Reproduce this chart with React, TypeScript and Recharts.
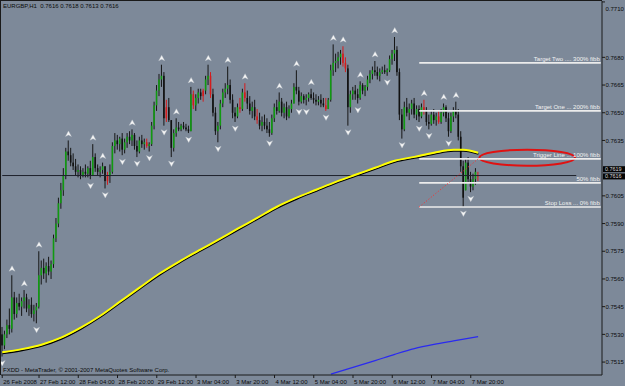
import React from 'react';
import { ComposedChart, Bar, Line, Scatter, XAxis, YAxis, ReferenceLine, ReferenceArea } from 'recharts';

// EURGBP H1 candles, 26 Feb 2008 21:00 .. 7 Mar 2008 23:00
const opens = [
  0.7530, 0.7524, 0.7530, 0.7535, 0.7533, 0.7550, 0.7541, 0.7547, 0.7545, 0.7548, 0.7550, 0.7544, 0.7546, 0.7541, 0.7543,
  0.7545, 0.7562, 0.7566, 0.7563, 0.7567, 0.7564, 0.7568, 0.7582, 0.7590, 0.7601, 0.7608, 0.7616, 0.7629, 0.7627, 0.7623,
  0.7621, 0.7618, 0.7619, 0.7616, 0.7618, 0.7617, 0.7620, 0.7616, 0.7626, 0.7620, 0.7618, 0.7619, 0.7621, 0.7613, 0.7616,
  0.7618, 0.7632, 0.7635, 0.7633, 0.7636, 0.7630, 0.7634, 0.7637, 0.7635, 0.7638, 0.7632, 0.7629, 0.7635, 0.7633, 0.7634,
  0.7632, 0.7633, 0.7643, 0.7654, 0.7662, 0.7668, 0.7670, 0.7647, 0.7653, 0.7646, 0.7631, 0.7639, 0.7642, 0.7641, 0.7643,
  0.7642, 0.7641, 0.7640, 0.7660, 0.7654, 0.7658, 0.7661, 0.7659, 0.7662, 0.7668, 0.7670, 0.7660, 0.7650, 0.7640, 0.7643,
  0.7655, 0.7661, 0.7663, 0.7665, 0.7657, 0.7650, 0.7648, 0.7653, 0.7652, 0.7661, 0.7658, 0.7655, 0.7651, 0.7653, 0.7648,
  0.7646, 0.7643, 0.7645, 0.7643, 0.7641, 0.7639, 0.7647, 0.7653, 0.7651, 0.7656, 0.7650, 0.7653, 0.7648, 0.7652, 0.7655,
  0.7664, 0.7662, 0.7656, 0.7659, 0.7657, 0.7658, 0.7660, 0.7658, 0.7657, 0.7656, 0.7657, 0.7655, 0.7654, 0.7652, 0.7657,
  0.7673, 0.7677, 0.7678, 0.7680, 0.7682, 0.7677, 0.7674, 0.7653, 0.7660, 0.7662, 0.7660, 0.7658, 0.7665, 0.7662, 0.7664,
  0.7668, 0.7671, 0.7673, 0.7672, 0.7670, 0.7672, 0.7673, 0.7672, 0.7673, 0.7679, 0.7682, 0.7684, 0.7672, 0.7649, 0.7641,
  0.7653, 0.7650, 0.7652, 0.7655, 0.7649, 0.7652, 0.7648, 0.7653, 0.7651, 0.7645, 0.7644, 0.7649, 0.7646, 0.7648, 0.7645,
  0.7650, 0.7653, 0.7647, 0.7640, 0.7648, 0.7651, 0.7649, 0.7637, 0.7621, 0.7608, 0.7623, 0.7614, 0.7610, 0.7614, 0.7616,
];
const highs = [
  0.7534, 0.7532, 0.7538, 0.7544, 0.7562, 0.7553, 0.7550, 0.7552, 0.7550, 0.7554, 0.7552, 0.7549, 0.7550, 0.7546, 0.7547,
  0.7575, 0.7570, 0.7571, 0.7569, 0.7572, 0.7570, 0.7584, 0.7593, 0.7604, 0.7612, 0.7620, 0.7631, 0.7635, 0.7631, 0.7628,
  0.7625, 0.7622, 0.7621, 0.7620, 0.7622, 0.7621, 0.7624, 0.7633, 0.7628, 0.7622, 0.7621, 0.7623, 0.7621, 0.7618, 0.7622,
  0.7634, 0.7639, 0.7638, 0.7637, 0.7639, 0.7636, 0.7639, 0.7640, 0.7641, 0.7639, 0.7635, 0.7637, 0.7638, 0.7636, 0.7636,
  0.7634, 0.7645, 0.7656, 0.7665, 0.7671, 0.7676, 0.7672, 0.7657, 0.7658, 0.7646, 0.7641, 0.7647, 0.7645, 0.7644, 0.7645,
  0.7644, 0.7643, 0.7664, 0.7662, 0.7660, 0.7663, 0.7663, 0.7663, 0.7670, 0.7676, 0.7672, 0.7663, 0.7653, 0.7645, 0.7657,
  0.7663, 0.7666, 0.7675, 0.7668, 0.7660, 0.7653, 0.7655, 0.7658, 0.7663, 0.7666, 0.7662, 0.7659, 0.7656, 0.7657, 0.7652,
  0.7650, 0.7648, 0.7649, 0.7647, 0.7645, 0.7649, 0.7655, 0.7657, 0.7661, 0.7658, 0.7655, 0.7656, 0.7654, 0.7657, 0.7666,
  0.7673, 0.7664, 0.7661, 0.7660, 0.7660, 0.7661, 0.7663, 0.7661, 0.7660, 0.7659, 0.7660, 0.7658, 0.7658, 0.7658, 0.7676,
  0.7687, 0.7682, 0.7683, 0.7684, 0.7686, 0.7680, 0.7676, 0.7662, 0.7664, 0.7665, 0.7663, 0.7667, 0.7666, 0.7665, 0.7670,
  0.7673, 0.7675, 0.7678, 0.7675, 0.7674, 0.7675, 0.7676, 0.7674, 0.7681, 0.7684, 0.7691, 0.7686, 0.7674, 0.7652, 0.7656,
  0.7658, 0.7655, 0.7657, 0.7658, 0.7654, 0.7654, 0.7655, 0.7657, 0.7653, 0.7649, 0.7651, 0.7652, 0.7650, 0.7651, 0.7652,
  0.7655, 0.7654, 0.7650, 0.7650, 0.7653, 0.7656, 0.7652, 0.7640, 0.7624, 0.7625, 0.7626, 0.7618, 0.7617, 0.7620, 0.7618,
];
const lows = [
  0.7518, 0.7522, 0.7528, 0.7530, 0.7531, 0.7538, 0.7539, 0.7543, 0.7540, 0.7544, 0.7542, 0.7540, 0.7539, 0.7537, 0.7536,
  0.7544, 0.7557, 0.7560, 0.7558, 0.7562, 0.7560, 0.7566, 0.7580, 0.7588, 0.7598, 0.7605, 0.7614, 0.7624, 0.7621, 0.7619,
  0.7616, 0.7615, 0.7614, 0.7615, 0.7615, 0.7615, 0.7614, 0.7616, 0.7618, 0.7616, 0.7615, 0.7617, 0.7609, 0.7611, 0.7612,
  0.7617, 0.7628, 0.7630, 0.7629, 0.7627, 0.7628, 0.7631, 0.7633, 0.7632, 0.7630, 0.7626, 0.7628, 0.7631, 0.7630, 0.7631,
  0.7629, 0.7632, 0.7641, 0.7651, 0.7659, 0.7664, 0.7643, 0.7645, 0.7645, 0.7626, 0.7629, 0.7637, 0.7640, 0.7640, 0.7641,
  0.7640, 0.7639, 0.7640, 0.7652, 0.7651, 0.7655, 0.7657, 0.7656, 0.7660, 0.7665, 0.7658, 0.7648, 0.7638, 0.7634, 0.7641,
  0.7653, 0.7658, 0.7660, 0.7655, 0.7647, 0.7645, 0.7647, 0.7650, 0.7651, 0.7656, 0.7652, 0.7649, 0.7647, 0.7646, 0.7644,
  0.7641, 0.7640, 0.7641, 0.7639, 0.7637, 0.7638, 0.7645, 0.7649, 0.7650, 0.7648, 0.7647, 0.7646, 0.7647, 0.7650, 0.7655,
  0.7660, 0.7654, 0.7655, 0.7655, 0.7654, 0.7656, 0.7657, 0.7655, 0.7654, 0.7654, 0.7653, 0.7653, 0.7651, 0.7652, 0.7656,
  0.7670, 0.7672, 0.7674, 0.7676, 0.7675, 0.7672, 0.7643, 0.7650, 0.7657, 0.7657, 0.7655, 0.7657, 0.7660, 0.7659, 0.7662,
  0.7666, 0.7668, 0.7670, 0.7668, 0.7667, 0.7671, 0.7671, 0.7670, 0.7672, 0.7676, 0.7678, 0.7670, 0.7646, 0.7636, 0.7640,
  0.7648, 0.7646, 0.7649, 0.7647, 0.7646, 0.7645, 0.7647, 0.7649, 0.7643, 0.7641, 0.7643, 0.7644, 0.7643, 0.7644, 0.7644,
  0.7648, 0.7645, 0.7637, 0.7639, 0.7645, 0.7647, 0.7635, 0.7618, 0.7599, 0.7608, 0.7612, 0.7607, 0.7608, 0.7611, 0.7613,
];
const closes = [
  0.7524, 0.7530, 0.7535, 0.7533, 0.7550, 0.7541, 0.7547, 0.7545, 0.7548, 0.7550, 0.7544, 0.7546, 0.7541, 0.7543, 0.7545,
  0.7562, 0.7566, 0.7563, 0.7567, 0.7564, 0.7568, 0.7582, 0.7590, 0.7601, 0.7608, 0.7616, 0.7629, 0.7627, 0.7623, 0.7621,
  0.7618, 0.7619, 0.7616, 0.7618, 0.7617, 0.7620, 0.7616, 0.7626, 0.7620, 0.7618, 0.7619, 0.7621, 0.7613, 0.7616, 0.7618,
  0.7632, 0.7635, 0.7633, 0.7636, 0.7630, 0.7634, 0.7637, 0.7635, 0.7638, 0.7632, 0.7629, 0.7635, 0.7633, 0.7634, 0.7632,
  0.7633, 0.7643, 0.7654, 0.7662, 0.7668, 0.7670, 0.7647, 0.7653, 0.7646, 0.7631, 0.7639, 0.7642, 0.7641, 0.7643, 0.7642,
  0.7641, 0.7640, 0.7660, 0.7654, 0.7658, 0.7661, 0.7659, 0.7662, 0.7668, 0.7670, 0.7660, 0.7650, 0.7640, 0.7643, 0.7655,
  0.7661, 0.7663, 0.7665, 0.7657, 0.7650, 0.7648, 0.7653, 0.7652, 0.7661, 0.7658, 0.7655, 0.7651, 0.7653, 0.7648, 0.7646,
  0.7643, 0.7645, 0.7643, 0.7641, 0.7639, 0.7647, 0.7653, 0.7651, 0.7656, 0.7650, 0.7653, 0.7648, 0.7652, 0.7655, 0.7664,
  0.7662, 0.7656, 0.7659, 0.7657, 0.7658, 0.7660, 0.7658, 0.7657, 0.7656, 0.7657, 0.7655, 0.7654, 0.7652, 0.7657, 0.7673,
  0.7677, 0.7678, 0.7680, 0.7682, 0.7677, 0.7674, 0.7653, 0.7660, 0.7662, 0.7660, 0.7658, 0.7665, 0.7662, 0.7664, 0.7668,
  0.7671, 0.7673, 0.7672, 0.7670, 0.7672, 0.7673, 0.7672, 0.7673, 0.7679, 0.7682, 0.7684, 0.7672, 0.7649, 0.7641, 0.7653,
  0.7650, 0.7652, 0.7655, 0.7649, 0.7652, 0.7648, 0.7653, 0.7651, 0.7645, 0.7644, 0.7649, 0.7646, 0.7648, 0.7645, 0.7650,
  0.7653, 0.7647, 0.7640, 0.7648, 0.7651, 0.7649, 0.7637, 0.7621, 0.7604, 0.7623, 0.7614, 0.7610, 0.7614, 0.7618, 0.7616,
];

// bars painted red by the indicator
const redBars = [43, 59, 67, 78, 82, 85, 97, 99, 104, 132, 139, 140, 172, 178, 194];
const upFractals = [4, 9, 15, 27, 37, 41, 53, 65, 71, 77, 84, 92, 99, 113, 120, 126, 135, 139, 146, 152, 160, 172, 180, 185];
const downFractals = [0, 14, 36, 42, 49, 55, 60, 66, 69, 76, 88, 95, 109, 121, 124, 132, 141, 145, 157, 163, 170, 174, 182, 188, 191];

// moving averages, read at every 8th bar
const yellowIdx = [0, 8, 16, 24, 32, 40, 48, 56, 64, 72, 80, 88, 96, 104, 112, 120, 128, 136, 144, 152, 160, 168, 176, 184, 188, 194];
const yellowMa = [
  0.75203, 0.7522, 0.75244, 0.75282, 0.75336, 0.75401, 0.75477, 0.75553, 0.75628, 0.75693, 0.75753, 0.75812, 0.75872,
  0.75931, 0.75991, 0.7604, 0.76083, 0.76126, 0.76164, 0.76202, 0.7624, 0.76261, 0.76283, 0.76299, 0.76299, 0.76283,
];
const blueIdx = [134, 144, 152, 160, 168, 176, 184, 194];
const blueMa = [0.75085, 0.75125, 0.75158, 0.75192, 0.75223, 0.75246, 0.75265, 0.75288];

const tickIdx = [0, 15, 31, 47, 63, 79, 95, 111, 127, 143, 159, 175, 191];
const tickText = [
  '26 Feb 2008', '27 Feb 12:00', '28 Feb 04:00', '28 Feb 20:00', '29 Feb 12:00', '3 Mar 04:00', '3 Mar 20:00',
  '4 Mar 12:00', '5 Mar 04:00', '5 Mar 20:00', '6 Mar 12:00', '7 Mar 04:00', '7 Mar 20:00',
];
// 0.7620 sits under the price tags, so it is not labelled
const priceTicks = [
  0.7515, 0.7530, 0.7545, 0.7560, 0.7575, 0.7590, 0.7605, 0.7635, 0.7650, 0.7665, 0.7680, 0.7695, 0.7710,
];

const fibStart = 170;
const fibLevels = [0.7599, 0.7612, 0.7625, 0.7651, 0.7677];
const fibNames = [
  'Stop Loss ... 0% fibb', '50% fibb', 'Trigger Line ... 100% fibb', 'Target One ... 200% fibb', 'Target Two .... 300% fibb',
];
const bidPrice = 0.7616;
const askPrice = 0.7619;
const bidEnd = 234;
const slots = 245; // chart shift: empty space right of the last bar

const BG = '#7d8999';
const FONT = '"Liberation Sans", Arial, sans-serif';

const rows = Array.from({ length: slots }, (_, i) => {
  const has = i < closes.length;
  const yi = yellowIdx.indexOf(i);
  const bi = blueIdx.indexOf(i);
  return {
    i,
    range: has ? [lows[i], highs[i]] : null,
    o: has ? opens[i] : null,
    h: has ? highs[i] : null,
    l: has ? lows[i] : null,
    c: has ? closes[i] : null,
    red: redBars.includes(i),
    ma1: yi >= 0 ? yellowMa[yi] : null,
    ma2: bi >= 0 ? blueMa[bi] : null,
    up: upFractals.includes(i) ? highs[i] : null,
    dn: downFractals.includes(i) ? lows[i] : null,
  };
});

const Candle = (props: any) => {
  const { x, y, width, height, payload } = props;
  if (!payload || payload.o == null || !isFinite(y)) return null;
  const top = Math.min(y, y + height);
  const hgt = Math.abs(height);
  const cx = x + width / 2;
  const { o, h, l, c, red } = payload;
  const span = h - l || 1e-9;
  const yAt = (v: number) => top + ((h - v) / span) * hgt;
  const b1 = Math.min(yAt(o), yAt(c));
  const b2 = Math.max(yAt(o), yAt(c));
  const bull = c > o;
  const body = red ? '#d41c1c' : bull ? '#119a11' : '#111111';
  const wick = red ? '#d41c1c' : '#161616';
  return (
    <g>
      <line x1={cx} x2={cx} y1={top} y2={top + hgt} stroke={wick} strokeWidth={1} />
      <rect x={cx - 0.8} y={b1} width={1.6} height={Math.max(b2 - b1, 0.8)} fill={body} />
    </g>
  );
};

const UpArrow = (props: any) => {
  const { cx, cy, payload } = props;
  if (!payload || payload.up == null || !isFinite(cy)) return null;
  const t = cy - 9.5;
  return (
    <path
      d={`M${cx},${t} L${cx + 3},${t + 5.5} L${cx},${t + 4} L${cx - 3},${t + 5.5} Z`}
      fill="#f6f6f6"
      stroke="#b9c0c8"
      strokeWidth={0.4}
    />
  );
};

const DownArrow = (props: any) => {
  const { cx, cy, payload } = props;
  if (!payload || payload.dn == null || !isFinite(cy)) return null;
  const t = cy + 9.5;
  return (
    <path
      d={`M${cx},${t} L${cx + 3},${t - 5.5} L${cx},${t - 4} L${cx - 3},${t - 5.5} Z`}
      fill="#f6f6f6"
      stroke="#b9c0c8"
      strokeWidth={0.4}
    />
  );
};

const DateTick = (props: any) => {
  const { x, y, payload } = props;
  const k = tickIdx.indexOf(payload.value);
  if (k < 0) return null;
  return (
    <text x={x + 1} y={y + 6} fontSize={6} fontFamily={FONT} fill="#0a0a0a" textAnchor="start">
      {tickText[k]}
    </text>
  );
};

const PriceTick = (props: any) => {
  const { x, y, payload } = props;
  return (
    <text x={x + 0.5} y={y + 2.2} fontSize={6} fontFamily={FONT} fill="#0a0a0a" textAnchor="start">
      {Number(payload.value).toFixed(4)}
    </text>
  );
};

const FibLabel = (props: any) => {
  const vb = props.viewBox || {};
  return (
    <text x={vb.x + vb.width - 1} y={vb.y - 1.6} fontSize={6} fontFamily={FONT} fill="#f2f2f2" textAnchor="end">
      {props.text}
    </text>
  );
};

// black price tags on the price scale; shift keeps the two tags from overlapping
const PriceBox = (props: any) => {
  const vb = props.viewBox || {};
  const bx = vb.x + vb.width + 1;
  const cy = vb.y + (props.shift || 0);
  return (
    <g>
      <rect x={bx} y={cy - 3} width={22} height={6} fill="#050505" />
      <text x={bx + 2} y={cy + 2} fontSize={5.4} fontFamily={FONT} fill="#d8d8d8">
        {props.text}
      </text>
    </g>
  );
};

const Ellipse = (p: any) => (
  <ellipse
    cx={p.x + p.width / 2}
    cy={p.y + p.height / 2}
    rx={Math.abs(p.width / 2)}
    ry={Math.abs(p.height / 2)}
    fill="none"
    stroke="#e01212"
    strokeWidth={2}
  />
);

export default function App() {
  return (
    <div style={{ position: 'relative', width: 625, height: 386, background: BG, fontFamily: FONT }}>
      <style>{`body{margin:0} .ma-shadow .recharts-curve{transform:translate(0.3px,1.3px)}`}</style>
      <ComposedChart width={625} height={386} data={rows} margin={{ top: 1, right: 0, left: 1, bottom: 0 }} barCategoryGap={0}>
        <XAxis
          dataKey="i"
          type="category"
          interval={0}
          ticks={tickIdx}
          tick={<DateTick />}
          tickSize={3}
          tickMargin={0}
          tickLine={{ stroke: '#1a1a1a' }}
          axisLine={{ stroke: '#1a1a1a' }}
          height={11}
        />
        <YAxis
          orientation="right"
          domain={[0.7508, 0.77105]}
          allowDataOverflow
          ticks={priceTicks}
          tick={<PriceTick />}
          tickSize={3}
          tickMargin={0}
          tickLine={{ stroke: '#1a1a1a' }}
          axisLine={{ stroke: '#1a1a1a' }}
          width={23}
        />
        <ReferenceLine y={askPrice} stroke="none" label={<PriceBox text={askPrice.toFixed(4)} shift={-0.8} />} />
        <ReferenceLine
          segment={[{ x: 0, y: bidPrice }, { x: bidEnd, y: bidPrice }]}
          stroke="#1d222b"
          strokeWidth={1}
        />
        <ReferenceLine y={bidPrice} stroke="none" label={<PriceBox text={bidPrice.toFixed(4)} shift={0.9} />} />
        {fibLevels.map((lv, k) => (
          <ReferenceLine
            key={k}
            segment={[{ x: fibStart, y: lv }, { x: slots - 1, y: lv }]}
            stroke="#ececec"
            strokeWidth={1.6}
            label={<FibLabel text={fibNames[k]} />}
          />
        ))}
        <ReferenceLine
          segment={[{ x: fibStart, y: fibLevels[0] }, { x: closes.length - 1, y: fibLevels[2] }]}
          stroke="#ff2a2a"
          strokeWidth={1}
          strokeDasharray="1 2"
        />
        <ReferenceArea x1={195} x2={233} y1={0.76213} y2={0.763} shape={Ellipse} ifOverflow="visible" />
        <Line dataKey="ma2" stroke="#2a2af0" strokeWidth={1.2} dot={false} connectNulls type="monotone" isAnimationActive={false} />
        <Line dataKey="ma1" className="ma-shadow" stroke="#000000" strokeWidth={1.4} dot={false} connectNulls type="monotone" isAnimationActive={false} />
        <Line dataKey="ma1" stroke="#ffff00" strokeWidth={2} dot={false} connectNulls type="monotone" isAnimationActive={false} />
        <Bar dataKey="range" shape={<Candle />} isAnimationActive={false} />
        <Scatter dataKey="up" shape={<UpArrow />} isAnimationActive={false} />
        <Scatter dataKey="dn" shape={<DownArrow />} isAnimationActive={false} />
      </ComposedChart>
      <div
        style={{
          position: 'absolute', left: 0, top: 0, width: 602, height: 375, boxSizing: 'border-box',
          borderTop: '1px solid #1a1a1a', borderLeft: '1px solid #1a1a1a', pointerEvents: 'none',
        }}
      />
      <div style={{ position: 'absolute', left: 3, top: 3, fontSize: 6, lineHeight: '7px', color: '#0a0a0a', whiteSpace: 'pre' }}>
        {'EURGBP,H1  0.7616 0.7618 0.7613 0.7616'}
      </div>
      <div style={{ position: 'absolute', left: 3, top: 367, fontSize: 6, lineHeight: '7px', color: '#0a0a0a', whiteSpace: 'pre' }}>
        {'FXDD - MetaTrader, © 2001-2007 MetaQuotes Software Corp.'}
      </div>
    </div>
  );
}
